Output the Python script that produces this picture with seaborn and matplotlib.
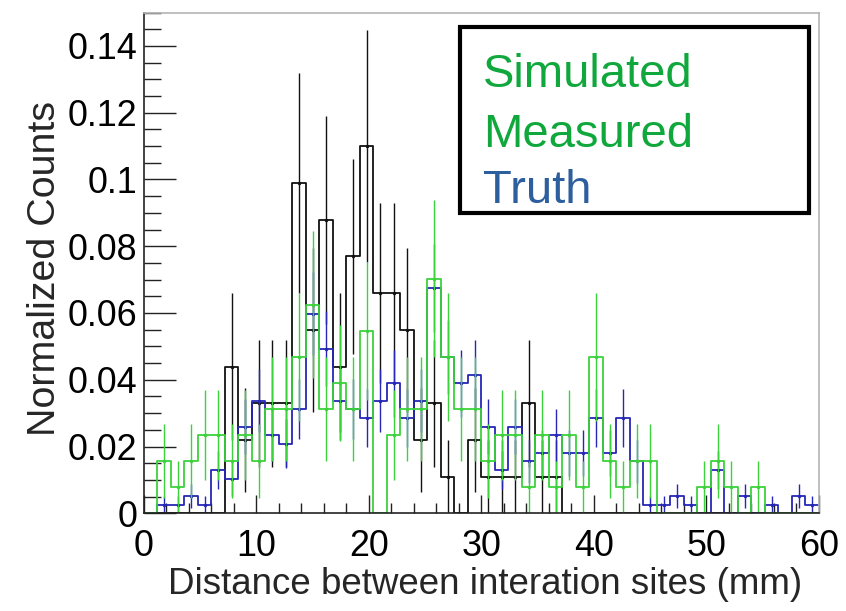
import numpy as np
import pandas as pd
import seaborn as sns
import matplotlib.pyplot as plt
import matplotlib.patches as mpatches
from matplotlib import font_manager
from matplotlib.ticker import MultipleLocator, FuncFormatter

# 50 bins of 1.2 mm between 0 and 60 mm
bin_edges = np.linspace(0, 60, 51)
bin_centers = 0.5 * (bin_edges[:-1] + bin_edges[1:])

# entries per bin
measured_counts = [0, 0, 0, 0, 0, 0, 4, 2, 3, 3,
                   3, 9, 5, 8, 4, 7, 10, 6, 6, 5,
                   2, 3, 1, 0, 2, 1, 1, 1, 3, 1,
                   1, 0, 0, 0, 0, 0, 0, 0, 0, 0,
                   0, 0, 0, 0, 0, 0, 0, 0, 0, 0]
truth_counts = [0, 1, 1, 2, 1, 5, 4, 10, 13, 9,
                8, 12, 23, 19, 13, 12, 11, 13, 15, 11,
                13, 26, 18, 15, 16, 10, 5, 10, 6, 7,
                9, 7, 7, 11, 7, 11, 6, 1, 1, 2,
                1, 0, 5, 0, 2, 0, 1, 0, 2, 1]
simulated_counts = [0, 2, 1, 2, 3, 3, 2, 3, 2, 4,
                    4, 6, 8, 4, 5, 4, 7, 0, 3, 4,
                    4, 9, 6, 4, 4, 2, 3, 3, 1, 3,
                    1, 3, 1, 6, 2, 1, 2, 2, 0, 0,
                    0, 1, 2, 1, 0, 1, 0, 0, 0, 0]
# histogram totals used for the normalisation
measured_total = 91
truth_total = 385
simulated_total = 128

legend_labels = ["Simulated", "Measured", "Truth"]
legend_colors = ["#10a83c", "#10a83c", "#2d5f9e"]

sns.set_theme(style="ticks")
plt.rcParams['font.family'] = ['Liberation Sans', 'DejaVu Sans']

# axis text in the original is tall and narrow
try:
    font_manager.findfont('Liberation Sans Narrow', fallback_to_default=False)
    axis_font = ['Liberation Sans Narrow', 'Liberation Sans']
    fscale = 1.0
except ValueError:
    axis_font = ['Liberation Sans', 'DejaVu Sans']
    fscale = 0.86

fig = plt.figure(figsize=(8.46, 6.11), dpi=100)
ax = fig.add_axes([0.1702, 0.1599, 0.7978, 0.8196])

series = [
    (measured_counts, measured_total, "#111111"),
    (truth_counts, truth_total, "#2626b8"),
    (simulated_counts, simulated_total, "#3cd23c"),
]
for counts, total, color in series:
    counts = np.array(counts, dtype=float)
    df = pd.DataFrame({"x": bin_centers, "w": counts / total})
    sns.histplot(data=df, x="x", weights="w", bins=list(bin_edges), element="step",
                 fill=False, color=color, linewidth=1.3, ax=ax)
    err = np.sqrt(counts) / total
    has = counts > 0
    ax.errorbar(bin_centers[has], df["w"][has], yerr=err[has], fmt='none',
                ecolor=color, elinewidth=1.0, capsize=0)
    ax.plot(bin_centers[has], df["w"][has], 'o', color=color, ms=1.5)

ax.set_xlim(0, 60)
ax.set_ylim(0, 0.15)
ax.xaxis.set_major_locator(MultipleLocator(10))
ax.xaxis.set_minor_locator(MultipleLocator(2))
ax.yaxis.set_major_locator(MultipleLocator(0.02))
ax.yaxis.set_minor_locator(MultipleLocator(0.005))
ax.yaxis.set_major_formatter(FuncFormatter(lambda v, p: f"{v:g}"))
ax.tick_params(axis='both', which='both', direction='in', colors='#222222',
               labelcolor='black', width=1)
ax.tick_params(axis='y', which='major', length=23, pad=5)
ax.tick_params(axis='y', which='minor', length=12)
ax.tick_params(axis='x', which='major', length=13, pad=11)
ax.tick_params(axis='x', which='minor', length=7)
for lab in ax.get_xticklabels() + ax.get_yticklabels():
    lab.set_family(axis_font)
    lab.set_fontsize(30 * fscale)

for s in ["left", "bottom"]:
    ax.spines[s].set_color('#222222')
    ax.spines[s].set_linewidth(1.2)
for s in ["top", "right"]:
    ax.spines[s].set_visible(True)
    ax.spines[s].set_color('#b4b4b4')
    ax.spines[s].set_linewidth(1.2)

ax.set_xlabel("Distance between interation sites (mm)", fontsize=30.8 * fscale,
              family=axis_font)
ax.set_ylabel("Normalized Counts", fontsize=33 * fscale, family=axis_font)
ax.xaxis.set_label_coords(0.505, -0.108)
ax.yaxis.set_label_coords(-0.12, 0.488)

# legend box drawn as in the original (text only, coloured)
box = mpatches.Rectangle((460 / 846, 1 - 213 / 611), 349 / 846, 186 / 611,
                         transform=fig.transFigure, facecolor='white',
                         edgecolor='black', linewidth=3, zorder=10)
fig.patches.append(box)
for label, color, ypix in zip(legend_labels, legend_colors, [87, 147, 203]):
    fig.text(483 / 846, 1 - ypix / 611, label, color=color, fontsize=34,
             ha='left', va='baseline', zorder=11)

plt.savefig("out.png", dpi=100)
